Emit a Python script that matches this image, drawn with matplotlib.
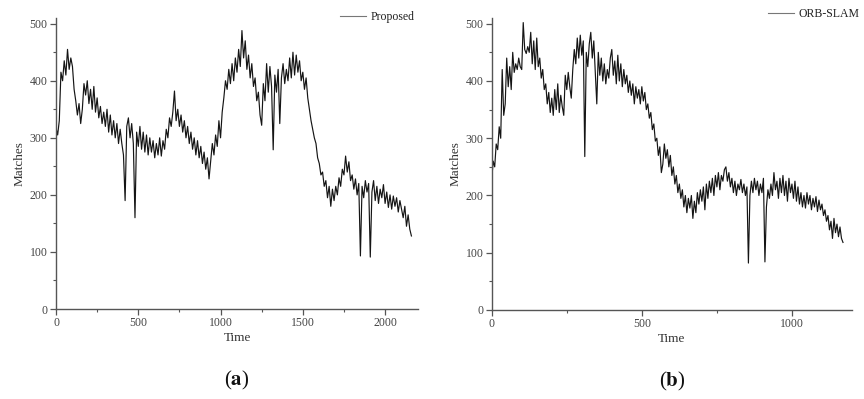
import numpy as np
import matplotlib
matplotlib.use("Agg")
import matplotlib.pyplot as plt
from matplotlib.ticker import MultipleLocator

# Matches per frame (a: every 10 frames, b: every 5 frames)
proposed = [
    318, 305, 330, 415, 400, 435, 410, 455, 420, 440,
    425, 385, 365, 340, 360, 325, 350, 395, 375, 400,
    360, 385, 350, 390, 345, 370, 335, 355, 325, 345,
    320, 350, 310, 340, 305, 330, 300, 325, 290, 315,
    290, 270, 190, 320, 335, 300, 325, 290, 160, 310,
    285, 320, 280, 310, 275, 305, 270, 300, 275, 295,
    265, 290, 270, 300, 268, 295, 280, 315, 300, 335,
    320, 345, 382, 330, 350, 320, 340, 310, 330, 300,
    320, 290, 310, 280, 300, 270, 295, 265, 285, 255,
    275, 245, 265, 228, 260, 290, 270, 305, 285, 330,
    300, 345, 370, 400, 385, 420, 395, 430, 400, 440,
    415, 455, 425, 488, 440, 470, 420, 445, 405, 430,
    390, 405, 365, 380, 340, 322, 395, 365, 430, 380,
    425, 390, 279, 410, 380, 420, 325, 405, 430, 395,
    420, 400, 440, 405, 450, 410, 445, 415, 435, 400,
    415, 385, 405, 370, 350, 330, 315, 300, 290, 265,
    255, 235, 240, 215, 225, 195, 215, 180, 210, 190,
    215, 200, 230, 215, 245, 235, 268, 240, 258, 225,
    235, 210, 228, 200, 220, 93, 215, 195, 225, 205,
    220, 91, 205, 225, 190, 215, 185, 210, 195, 218,
    185, 205, 178, 200, 175, 198, 180, 195, 170, 190,
    175, 160, 180, 145, 165, 140, 128,
]

orb_slam = [
    228, 260, 250, 290, 280, 320, 300, 420, 340, 360,
    440, 390, 425, 385, 450, 415, 430, 420, 440, 425,
    420, 502, 455, 448, 460, 450, 485, 430, 470, 420,
    475, 425, 440, 405, 420, 385, 395, 360, 380, 345,
    370, 340, 385, 350, 395, 345, 375, 355, 340, 410,
    385, 415, 390, 370, 420, 455, 430, 475, 440, 480,
    445, 470, 268, 450, 425, 465, 485, 440, 470, 415,
    360, 450, 410, 440, 400, 430, 395, 420, 405, 440,
    455, 410, 435, 395, 445, 400, 430, 390, 420, 395,
    410, 380, 400, 375, 395, 360, 390, 370, 385, 360,
    390, 365, 380, 350, 360, 335, 345, 315, 325, 295,
    300, 270, 285, 240, 255, 290, 265, 280, 250, 270,
    235, 250, 220, 235, 205, 220, 195, 210, 180, 200,
    170, 195, 178, 200, 160, 190, 170, 205, 185, 210,
    190, 215, 175, 220, 195, 225, 205, 230, 200, 235,
    215, 240, 210, 235, 225, 245, 250, 225, 240, 215,
    230, 205, 225, 200, 220, 210, 228, 205, 220, 200,
    215, 82, 200, 225, 205, 230, 210, 225, 200, 220,
    205, 230, 84, 180, 210, 195, 220, 200, 240, 210,
    225, 195, 230, 205, 235, 200, 225, 190, 230, 205,
    220, 195, 225, 190, 215, 185, 205, 180, 200, 178,
    205, 185, 200, 175, 195, 180, 198, 172, 192, 175,
    185, 165, 175, 155, 165, 140, 155, 125, 160, 135,
    150, 128, 145, 125, 118,
]

t_a = np.arange(len(proposed)) * 10
t_b = np.arange(len(orb_slam)) * 5

plt.rcParams["font.family"] = ["Liberation Serif", "DejaVu Serif"]
plt.rcParams["mathtext.fontset"] = "stix"

fig = plt.figure(figsize=(8.64, 3.99), dpi=100)
ax_a = fig.add_axes([56 / 864, 1 - 309 / 399, 362 / 864, 291 / 399])
ax_b = fig.add_axes([491.7 / 864, 1 - 310 / 399, 360.3 / 864, 292 / 399])

grey = "#444444"
panels = [
    (ax_a, t_a, proposed, "Proposed", 2200, "a", (0.99, 1.003)),
    (ax_b, t_b, orb_slam, "ORB-SLAM", 1200, "b", (1.022, 1.014)),
]

for ax, t, y, name, xmax, tag, anchor in panels:
    ax.plot(t, y, color="#151515", lw=0.85, label=name)
    ax.set_xlim(0, xmax)
    ax.set_ylim(0, 510)
    ax.xaxis.set_major_locator(MultipleLocator(500))
    ax.xaxis.set_minor_locator(MultipleLocator(250))
    ax.yaxis.set_major_locator(MultipleLocator(100))
    ax.yaxis.set_minor_locator(MultipleLocator(50))
    for s in ["top", "right"]:
        ax.spines[s].set_visible(False)
    for s in ["left", "bottom"]:
        ax.spines[s].set_color("#555555")
        ax.spines[s].set_linewidth(1.0)
    ax.tick_params(which="major", length=4, width=0.9, colors="#555555",
                   labelcolor=grey, labelsize=8.5, pad=2)
    ax.tick_params(which="minor", length=2.5, width=0.8, colors="#555555")
    ax.set_xlabel("Time", fontsize=9.5, color="#333333", labelpad=2)
    ax.set_ylabel("Matches", fontsize=9.5, color="#333333", labelpad=3)
    leg = ax.legend(loc="center right", bbox_to_anchor=anchor, frameon=False,
                    fontsize=8.5, handlelength=2.2, handletextpad=0.4,
                    borderaxespad=0, borderpad=0)
    for h in leg.get_lines():
        h.set_color("#777777")
        h.set_linewidth(0.8)
    for txt in leg.get_texts():
        txt.set_color("#222222")
    ax.text(0.5, -0.245, r"($\mathbf{%s}$)" % tag, transform=ax.transAxes,
            ha="center", va="center", fontsize=15, color="#111111")

fig.savefig("out.png", dpi=100)
